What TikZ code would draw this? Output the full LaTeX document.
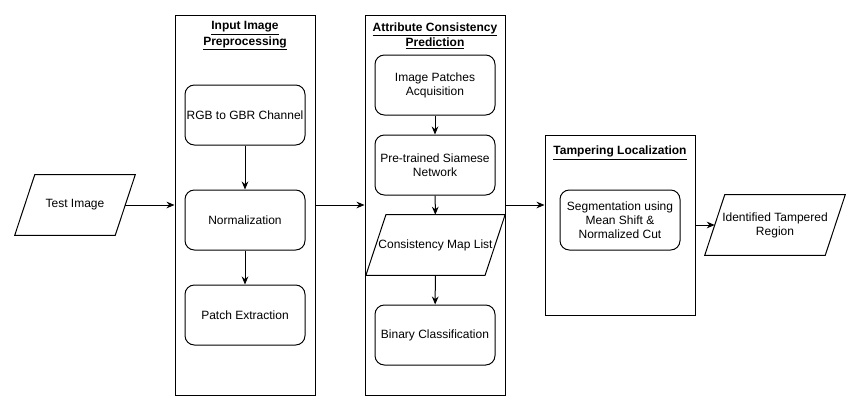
\documentclass[tikz,border=0pt]{standalone}
\usepackage{fontspec}
\setmainfont{Liberation Sans}
\usetikzlibrary{arrows.meta}

% slanted input/output outline round a named node
\newcommand{\ioshape}[1]{%
  \draw[line width=0.75pt] ([xshift=-7.5pt]#1.south west) -- ([xshift=7.5pt]#1.north west)
    -- ([xshift=7.5pt]#1.north east) -- ([xshift=-7.5pt]#1.south east) -- cycle;}

\begin{document}
\begin{tikzpicture}[x=0.75pt,y=-0.75pt,
    font=\fontsize{9}{10.5}\selectfont,
    stagebox/.style={draw,line width=0.75pt,inner sep=0pt},
    titlebox/.style={align=center,inner sep=1pt,font=\fontsize{9}{10.5}\selectfont\bfseries},
    stepbox/.style={draw,line width=0.75pt,rounded corners=7pt,align=center,
        minimum width=90pt,minimum height=45pt,inner sep=1pt},
    iobox/.style={align=center,minimum height=45pt,inner sep=0pt},
    flow/.style={line width=0.75pt,-{Stealth[length=6pt,width=5pt]}}]
\useasboundingbox (0,0) rectangle (861,411);

% input
\node[iobox,minimum width=75pt] (test) at (75,205) {Test Image};
\ioshape{test}

% input image preprocessing
\node[stagebox,minimum width=105pt,minimum height=285pt] (prep) at (245,205) {};
\node[titlebox] (preptitle) at ([yshift=-16pt]prep.north)
    {\underline{Input Image}\\[1pt]\underline{Preprocessing}};
\node[stepbox] (rgb) at (245,115) {RGB to GBR Channel};
\node[stepbox] (norm) at (245,220) {Normalization};
\node[stepbox] (patch) at (245,315) {Patch Extraction};

% attribute consistency prediction
\node[stagebox,minimum width=105pt,minimum height=285pt] (acp) at (435,205) {};
\node[titlebox] (acptitle) at ([yshift=-16pt]acp.north)
    {\underline{Attribute Consistency}\\[1pt]\underline{Prediction}};
\node[stepbox] (acq) at (435,85) {Image Patches\\Acquisition};
\node[stepbox] (siam) at (435,165) {Pre-trained Siamese\\Network};
\node[iobox,minimum width=89pt] (cml) at (435.5,245) {Consistency Map List};
\ioshape{cml}
\node[stepbox] (bin) at (435,335) {Binary Classification};

% tampering localization
\node[stagebox,minimum width=112.5pt,minimum height=135pt] (loc) at (620,225) {};
\node[titlebox] (loctitle) at ([yshift=-14pt]loc.north)
    {\underline{Tampering Localization}};
\node[stepbox] (seg) at (620,220) {Segmentation using\\Mean Shift \&\\Normalized Cut};

% output
\node[iobox,minimum width=90pt] (tir) at (775,225) {Identified Tampered\\Region};
\ioshape{tir}

% connectors
\draw[flow] (test) -- (prep);
\draw[flow] (rgb) -- (norm);
\draw[flow] (norm) -- (patch);
\draw[flow] (prep) -- (acp);
\draw[flow] (acq) -- (siam);
\draw[flow] (siam) -- (cml);
\draw[flow] (cml) -- (bin);
\draw[flow] (acp.east) -- (acp.east -| loc.west);
\draw[flow] (loc) -- (tir);
\end{tikzpicture}
\end{document}
